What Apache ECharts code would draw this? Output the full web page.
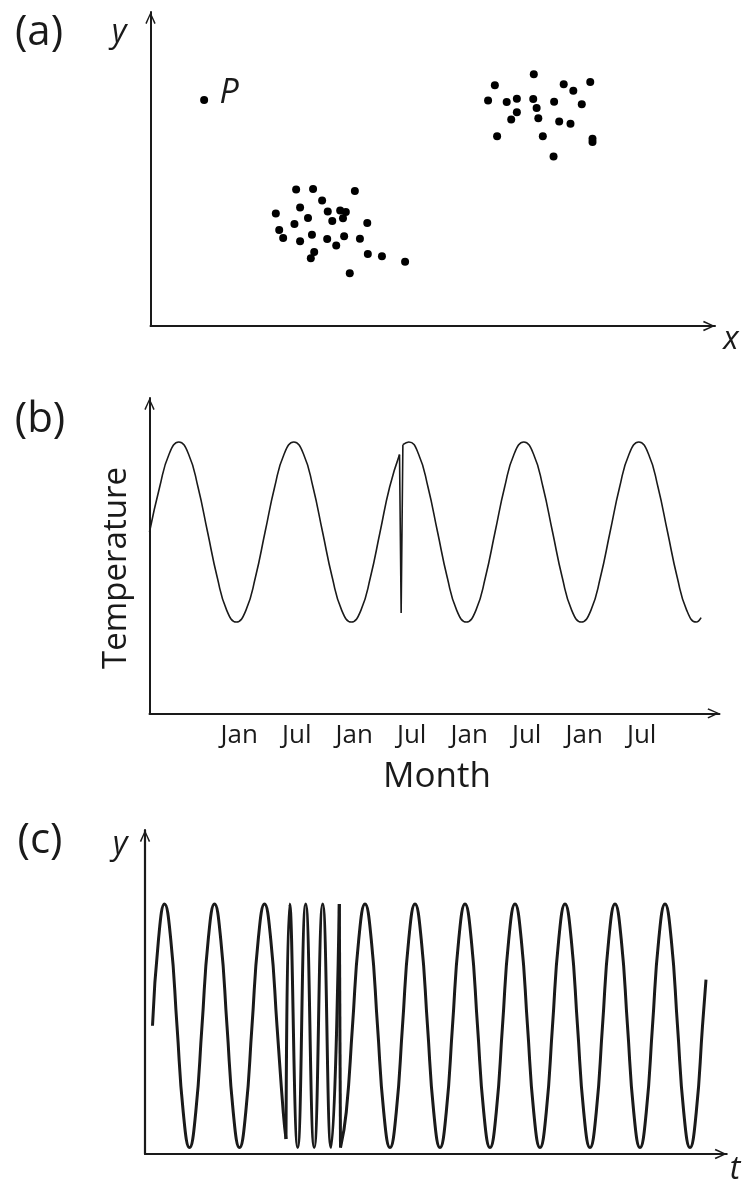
<!DOCTYPE html>
<html>
<head>
<meta charset="utf-8">
<script src="https://cdn.jsdelivr.net/npm/echarts@6/dist/echarts.min.js"></script>
<style>
  html, body { margin: 0; padding: 0; background: #fff; }
  #main { width: 742px; height: 1185px; }
</style>
</head>
<body>
<div id="main"></div>
<script>
// (a) scatter: two clusters and the outlier P (x, y in 0..100 of the axes)
const clusterA = [
  [25.8, 43.5], [28.8, 43.6], [36.2, 43.0], [30.4, 40.0], [26.5, 37.7], [22.2, 35.8],
  [31.4, 36.5], [33.6, 36.8], [34.6, 36.3], [34.1, 34.3], [27.9, 34.4], [32.2, 33.4],
  [25.5, 32.5], [38.4, 32.8], [22.8, 30.6], [28.6, 29.1], [23.5, 28.0], [31.3, 27.7],
  [34.3, 28.6], [37.1, 27.8], [26.5, 27.0], [32.9, 25.6], [29.0, 23.6], [28.4, 21.6],
  [38.5, 22.9], [41.0, 22.2], [45.1, 20.5], [35.3, 16.8]
];
const clusterB = [
  [67.9, 80.2], [61.0, 76.7], [77.9, 77.7], [73.2, 77.0], [74.9, 74.9], [59.8, 71.8],
  [63.1, 71.3], [64.9, 72.4], [67.8, 72.3], [71.5, 71.4], [76.4, 70.6], [64.9, 68.1],
  [68.4, 69.4], [63.9, 65.8], [68.7, 66.2], [72.4, 65.1], [74.4, 64.4], [61.4, 60.4],
  [69.5, 60.4], [78.3, 59.6], [78.3, 58.6], [71.4, 54.0]
];
const pointP = [[9.5, 72.0]];

// (b) monthly temperature (month index, anomaly), with the glitch before the third July
const tempLeft = [
  [2.64, 0], [3.7, 0.5], [4.7, 0.87], [5.7, 1], [6.7, 0.87], [7.7, 0.5], [8.7, 0],
  [9.7, -0.5], [10.7, -0.87], [11.7, -1], [12.7, -0.87], [13.7, -0.5], [14.7, 0],
  [15.7, 0.5], [16.7, 0.87], [17.7, 1], [18.7, 0.87], [19.7, 0.5], [20.7, 0],
  [21.7, -0.5], [22.7, -0.87], [23.7, -1], [24.7, -0.87], [25.7, -0.5], [26.7, 0],
  [27.7, 0.5], [28.73, 0.86]
];
const tempSpike = [[28.73, 0.86], [28.9, -0.9], [29.08, 0.97]];
const tempRight = [
  [29.08, 0.97], [29.7, 1], [30.7, 0.87], [31.7, 0.5], [32.7, 0], [33.7, -0.5],
  [34.7, -0.87], [35.7, -1], [36.7, -0.87], [37.7, -0.5], [38.7, 0], [39.7, 0.5],
  [40.7, 0.87], [41.7, 1], [42.7, 0.87], [43.7, 0.5], [44.7, 0], [45.7, -0.5],
  [46.7, -0.87], [47.7, -1], [48.7, -0.87], [49.7, -0.5], [50.7, 0], [51.7, 0.5],
  [52.7, 0.87], [53.7, 1], [54.7, 0.87], [55.7, 0.5], [56.7, 0], [57.7, -0.5],
  [58.7, -0.87], [59.7, -1], [60.2, -0.95]
];
const monthTicks = [12, 18, 24, 30, 36, 42, 48, 54];
const monthNames = ['Jan', 'Jul', 'Jan', 'Jul', 'Jan', 'Jul', 'Jan', 'Jul'];

// (c) signal y(t): steady wave with a burst of fast cycles
const waveSlow1 = [
  [0.15, 0], [0.27, 0.71], [0.39, 1], [0.515, 0.71], [0.64, 0], [0.765, -0.71],
  [0.89, -1], [1.015, -0.71], [1.14, 0], [1.265, 0.71], [1.39, 1], [1.515, 0.71],
  [1.64, 0], [1.765, -0.71], [1.89, -1], [2.015, -0.71], [2.14, 0], [2.265, 0.71],
  [2.39, 1], [2.515, 0.71], [2.64, 0], [2.765, -0.71], [2.82, -0.93]
];
const waveFast = [
  [2.82, -0.93], [2.894, 1], [3.054, -1], [3.214, 1], [3.384, -1], [3.554, 1],
  [3.72, -1], [3.886, 1]
];
const waveDrop = [[3.886, 1], [3.91, -1]];
const waveSlow2 = [
  [3.91, -1], [4.025, -0.71], [4.15, 0], [4.275, 0.71], [4.4, 1], [4.525, 0.71],
  [4.65, 0], [4.775, -0.71], [4.9, -1], [5.025, -0.71], [5.15, 0], [5.275, 0.71],
  [5.4, 1], [5.525, 0.71], [5.65, 0], [5.775, -0.71], [5.9, -1], [6.025, -0.71],
  [6.15, 0], [6.275, 0.71], [6.4, 1], [6.525, 0.71], [6.65, 0], [6.775, -0.71],
  [6.9, -1], [7.025, -0.71], [7.15, 0], [7.275, 0.71], [7.4, 1], [7.525, 0.71],
  [7.65, 0], [7.775, -0.71], [7.9, -1], [8.025, -0.71], [8.15, 0], [8.275, 0.71],
  [8.4, 1], [8.525, 0.71], [8.65, 0], [8.775, -0.71], [8.9, -1], [9.025, -0.71],
  [9.15, 0], [9.275, 0.71], [9.4, 1], [9.525, 0.71], [9.65, 0], [9.775, -0.71],
  [9.9, -1], [10.025, -0.71], [10.15, 0], [10.275, 0.71], [10.4, 1], [10.525, 0.71],
  [10.65, 0], [10.775, -0.71], [10.9, -1], [11.025, -0.71], [11.15, 0], [11.22, 0.38]
];

const ink = '#1a1a1a';
const font = '"Open Sans", "Noto Sans", sans-serif';
const chevron = 'path://M5,0 L10,10.8 L8.7,11.6 L5,3 L1.3,11.6 L0,10.8 Z';

function axis(extra, width) {
  return Object.assign({
    type: 'value',
    axisLine: {
      show: true,
      onZero: false,
      symbol: ['none', chevron],
      symbolSize: [11, 12],
      symbolOffset: [0, -6],
      lineStyle: { color: ink, width: width }
    },
    axisTick: { show: false },
    axisLabel: { show: false },
    splitLine: { show: false }
  }, extra);
}

function curve(data, xi, w, smooth) {
  return {
    type: 'line', data: data, xAxisIndex: xi, yAxisIndex: xi,
    smooth: smooth, showSymbol: false, silent: true,
    lineStyle: { color: ink, width: w }
  };
}

function label(text, x, y, size, italic, rot) {
  return {
    type: 'text', x: x, y: y, rotation: rot || 0, silent: true,
    style: {
      text: text, fill: ink, align: 'center', verticalAlign: 'middle',
      font: (italic ? 'italic ' : '') + size + 'px ' + font
    }
  };
}

const chart = echarts.init(document.getElementById('main'), null, { renderer: 'canvas' });

chart.setOption({
  animation: false,
  backgroundColor: '#fff',
  grid: [
    { left: 150.5, top: 12, width: 564.5, height: 314 },
    { left: 149.5, top: 398, width: 570, height: 315.3 },
    { left: 145, top: 830, width: 581.7, height: 324 }
  ],
  xAxis: [
    axis({ gridIndex: 0, min: 0, max: 100 }, 2),
    axis({
      gridIndex: 1, min: 2.64, max: 62.12,
      axisLabel: {
        show: true, customValues: monthTicks, margin: 9,
        fontSize: 26, fontFamily: font, color: ink,
        formatter: function (v) { return monthNames[monthTicks.indexOf(v)]; }
      }
    }, 2),
    axis({ gridIndex: 2, min: 0, max: 11.634 }, 2.2)
  ],
  yAxis: [
    axis({ gridIndex: 0, min: 0, max: 100 }, 2),
    axis({ gridIndex: 1, min: -2.014, max: 1.489 }, 2),
    axis({ gridIndex: 2, min: -1.053, max: 1.608 }, 2.2)
  ],
  series: [
    {
      type: 'scatter', data: clusterA.concat(clusterB, pointP),
      xAxisIndex: 0, yAxisIndex: 0, symbolSize: 8, silent: true,
      itemStyle: { color: '#000', opacity: 1 }
    },
    curve(tempLeft, 1, 1.6, true),
    curve(tempSpike, 1, 1.6, false),
    curve(tempRight, 1, 1.6, true),
    curve(waveSlow1, 2, 3, true),
    curve(waveFast, 2, 3, true),
    curve(waveDrop, 2, 3, false),
    curve(waveSlow2, 2, 3, true)
  ],
  graphic: [
    label('(a)', 39, 33, 42, false),
    label('y', 119, 33, 32, true),
    label('x', 731, 340, 32, true),
    label('P', 229, 93, 34, true),
    label('(b)', 40, 420, 42, false),
    label('Temperature', 116.5, 568, 33, false, Math.PI / 2),
    label('Month', 437, 777, 35, false),
    label('(c)', 40, 841, 42, false),
    label('y', 120, 845, 32, true),
    label('t', 735, 1170, 32, true)
  ]
});
</script>
</body>
</html>
